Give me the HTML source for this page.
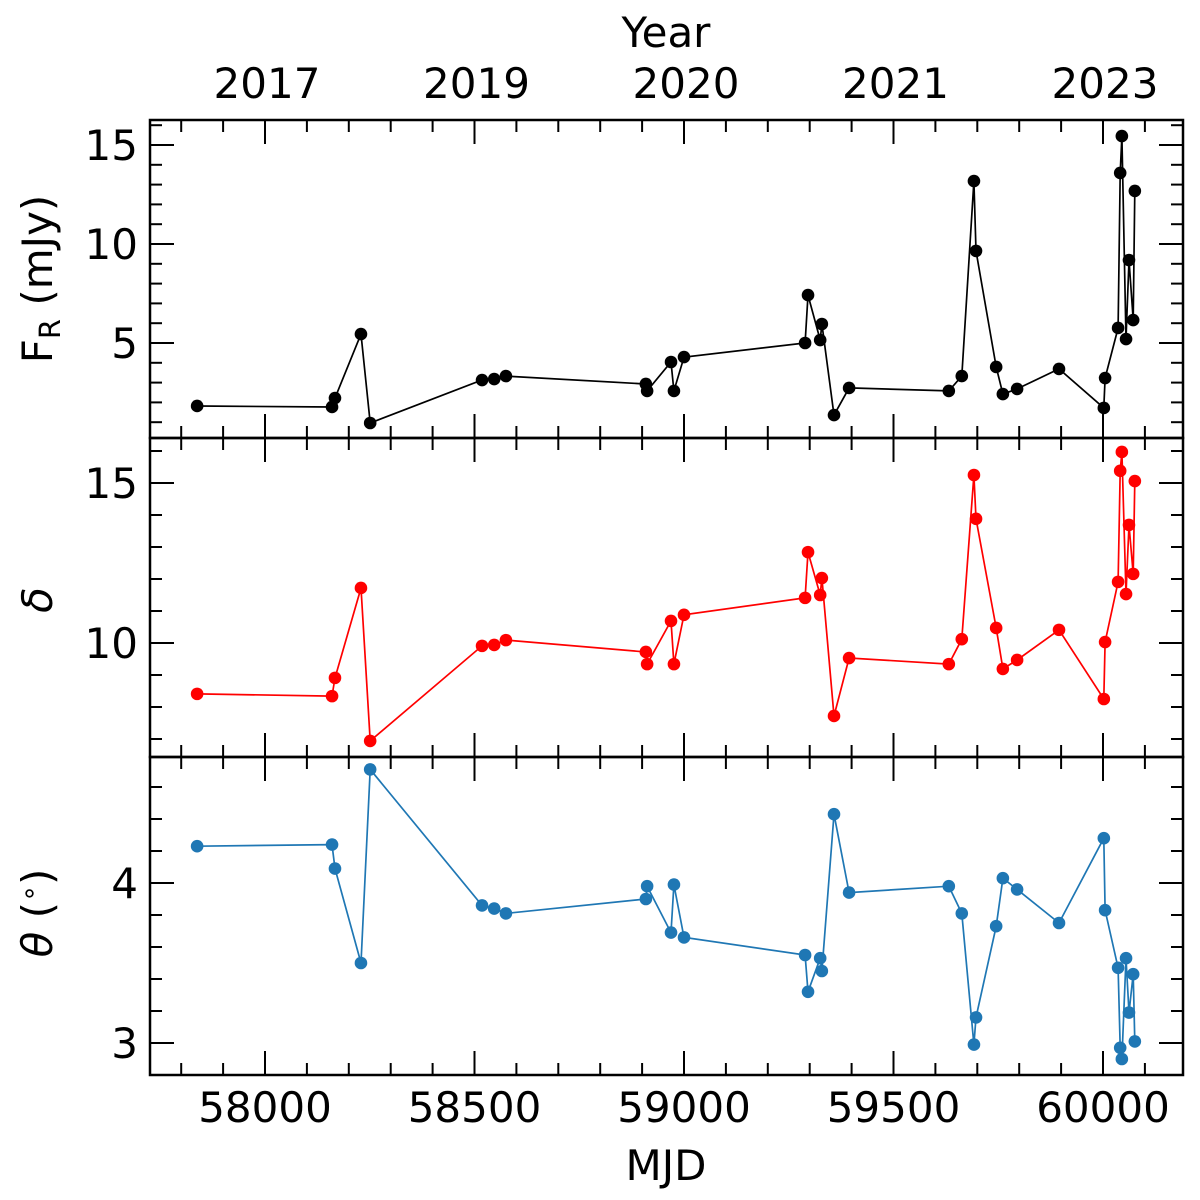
<!DOCTYPE html>
<html><head><meta charset="utf-8"><style>
html,body{margin:0;padding:0;background:#fff;}
svg{display:block;}
text{font-family:"DejaVu Sans","Liberation Sans",sans-serif;fill:#000;}
</style></head><body>
<svg id="chart" width="1200" height="1200" viewBox="0 0 1200 1200" xmlns="http://www.w3.org/2000/svg"></svg>
<script>
const mjd = [57838,58160,58167,58229,58251,58518,58547,58575,58909,58912,58969,58976,59000,59289,59296,59325,59329,59358,59394,59632,59663,59692,59697,59745,59761,59795,59895,60002,60005,60036,60041,60045,60055,60062,60072,60076];
const flux = [1.82,1.77,2.22,5.45,0.96,3.13,3.18,3.33,2.93,2.58,4.04,2.58,4.29,5.0,7.42,5.15,5.96,1.36,2.73,2.58,3.33,13.18,9.65,3.79,2.42,2.68,3.69,1.72,3.23,5.76,13.59,15.45,5.2,9.19,6.16,12.68];
const delta = [8.41,8.34,8.91,11.72,6.94,9.91,9.94,10.09,9.72,9.34,10.69,9.34,10.88,11.41,12.84,11.5,12.03,7.72,9.53,9.34,10.12,15.25,13.88,10.47,9.19,9.47,10.41,8.25,10.03,11.91,15.38,15.97,11.53,13.69,12.16,15.06];
const theta = [4.23,4.24,4.09,3.5,4.71,3.86,3.84,3.81,3.9,3.98,3.69,3.99,3.66,3.55,3.32,3.53,3.45,4.43,3.94,3.98,3.81,2.99,3.16,3.73,4.03,3.96,3.75,4.28,3.83,3.47,2.97,2.9,3.53,3.19,3.43,3.01];
const xTicks = [58000,58500,59000,59500,60000];
const yearLabels = ["2017","2019","2020","2021","2023"];
const fluxTicks = [5,10,15];
const deltaTicks = [10,15];
const thetaTicks = [3,4];

const svg = document.getElementById('chart');
const NS = 'http://www.w3.org/2000/svg';
const L = 150, R = 1183;
const X = m => 265 + (m - 58000) * 0.419;
function mk(tag, attrs, parent) {
  const e = document.createElementNS(NS, tag);
  for (const k in attrs) e.setAttribute(k, attrs[k]);
  (parent || svg).appendChild(e);
  return e;
}
const panels = [
  {name:'flux', top:120, bot:438, y0:0, y1:442, scale:19.8, data:flux, ticks:fluxTicks, minor:1, color:'#000000'},
  {name:'delta', top:438, bot:757, y0:10, y1:643, scale:32, data:delta, ticks:deltaTicks, minor:1, color:'#ff0000'},
  {name:'theta', top:757, bot:1075, y0:4, y1:883, scale:160, data:theta, ticks:thetaTicks, minor:0.2, color:'#1f77b4'}
];
panels.forEach((p, pi) => {
  const Y = v => p.y1 - (v - p.y0) * p.scale;
  const g = mk('g', {});
  
  
  for (let m = 57800; m <= 60200; m += 100) {
    const x = X(m);
    if (x < L || x > R) continue;
    const len = (m % 500 === 0) ? 24 : 12;
    mk('line', {x1:x, x2:x, y1:p.bot, y2:p.bot - len, stroke:'#000', 'stroke-width':2}, g);
    mk('line', {x1:x, x2:x, y1:p.top, y2:p.top + len, stroke:'#000', 'stroke-width':2}, g);
  }
  const vTop = p.y0 + (p.y1 - p.top) / p.scale, vBot = p.y0 + (p.y1 - p.bot) / p.scale;
  for (let k = Math.ceil(vBot / p.minor); k * p.minor <= vTop; k++) {
    const v = +(k * p.minor).toFixed(3);
    const y = Y(v);
    if (y <= p.top + 1 || y >= p.bot - 1) continue;
    const major = p.ticks.some(t => Math.abs(t - v) < 1e-6);
    const len = major ? 24 : 12;
    mk('line', {x1:L, x2:L + len, y1:y, y2:y, stroke:'#000', 'stroke-width':2}, g);
    mk('line', {x1:R, x2:R - len, y1:y, y2:y, stroke:'#000', 'stroke-width':2}, g);
  }
  p.ticks.forEach(t => {
    const tx = mk('text', {x:L - 12, y:Y(t) + 15, 'font-size':42, 'text-anchor':'end'}, g);
    
    
    tx.textContent = String(t);
  });
  const pts = p.data.map((v, i) => X(mjd[i]).toFixed(1) + ',' + Y(v).toFixed(1)).join(' ');
  const line = mk('polyline', {points:pts, fill:'none', stroke:p.color, 'stroke-width':1.7}, g);
  
  
  p.data.forEach((v, i) => {
    const c = mk('circle', {cx:X(mjd[i]), cy:Y(v), r:6.3, fill:p.color}, g);
    
    
  });
  const fr = mk('rect', {x:L, y:p.top, width:R - L, height:p.bot - p.top, fill:'none', stroke:'#000', 'stroke-width':2.5}, g);
  
  
});
xTicks.forEach(t => {
  const tx = mk('text', {x:X(t), y:1122, 'font-size':42, 'text-anchor':'middle'});
  
  
  tx.textContent = String(t);
});
yearLabels.forEach((s, i) => {
  const tx = mk('text', {x:X(xTicks[i]) + 2, y:98, 'font-size':42, 'text-anchor':'middle'});
  
  
  tx.textContent = s;
});
</script>
<script>
(function(){
const svg = document.getElementById('chart');
const NS='http://www.w3.org/2000/svg';
function t(txt,attrs,name){const e=document.createElementNS(NS,'text');for(const k in attrs)e.setAttribute(k,attrs[k]);


e.textContent=txt;svg.appendChild(e);return e;}
t('MJD',{x:666,y:1180,'font-size':42,'text-anchor':'middle'},'x-axis-title');
t('Year',{x:666,y:47,'font-size':42,'text-anchor':'middle'},'top-axis-title');
const f=t('',{transform:'translate(52,279) rotate(-90)','font-size':42,'text-anchor':'middle'},'flux-axis-title');
f.innerHTML='F<tspan font-size="29" dy="8">R</tspan><tspan dy="-8"> (mJy)</tspan>';
t('δ',{transform:'translate(52,600) rotate(-90)','font-size':42,'text-anchor':'middle','font-style':'italic'},'delta-axis-title');
const th=t('',{transform:'translate(52,913) rotate(-90)','font-size':42,'text-anchor':'middle'},'theta-axis-title');
th.innerHTML='<tspan font-style="italic">θ</tspan> (<tspan font-size="27" dy="-14">∘</tspan><tspan dy="14">)</tspan>';
})();
</script>
</body></html>
